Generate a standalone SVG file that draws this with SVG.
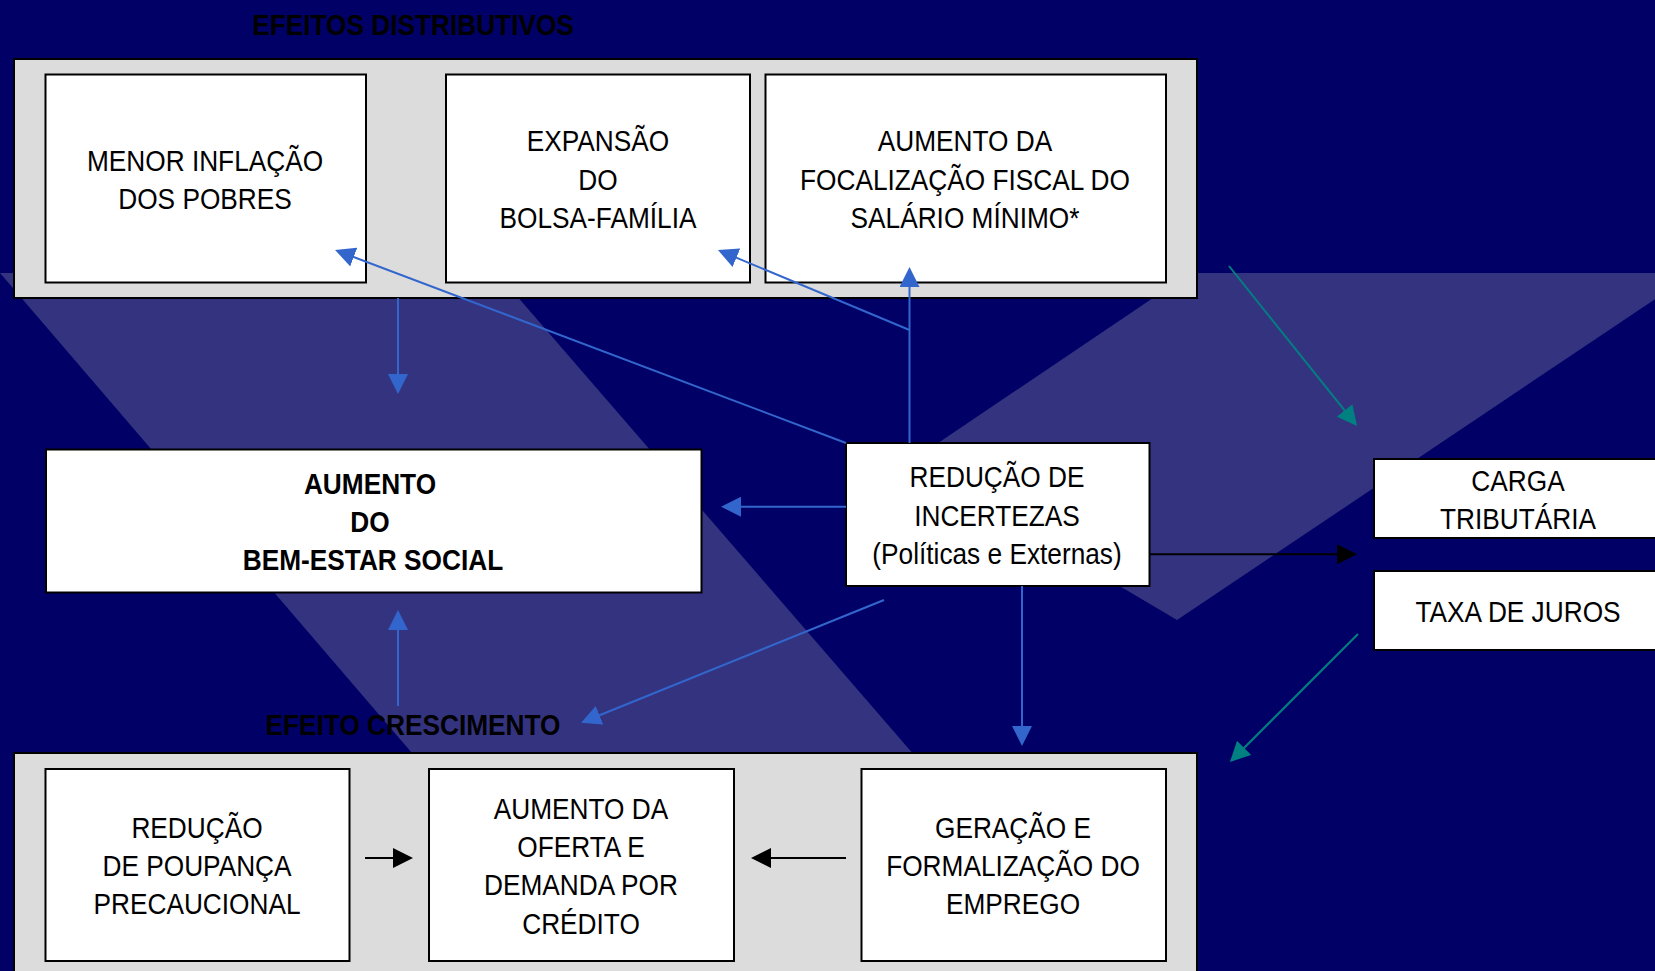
<svg xmlns="http://www.w3.org/2000/svg" width="1655" height="971" viewBox="0 0 1655 971">
<style>
text{font-family:"Liberation Sans",Arial,sans-serif;font-size:30px;fill:#000;text-anchor:middle}
.b{font-weight:bold}
.panel{fill:#dcdcdc;stroke:#000;stroke-width:2}
.box{fill:#fff;stroke:#000;stroke-width:2}
.band{fill:#333380}
.bl{stroke:#3366cc;stroke-width:2;fill:none;marker-end:url(#mb)}
.te{stroke:#008080;stroke-width:2;fill:none;marker-end:url(#mt)}
.bk{stroke:#000;stroke-width:2;fill:none;marker-end:url(#mk)}
</style>
<defs>
<marker id="mb" markerUnits="userSpaceOnUse" markerWidth="20" markerHeight="20" refX="10" refY="10" orient="auto"><path d="M0 0L20 10L0 20z" fill="#3366cc"/></marker>
<marker id="mt" markerUnits="userSpaceOnUse" markerWidth="20" markerHeight="20" refX="10" refY="10" orient="auto"><path d="M0 0L20 10L0 20z" fill="#008080"/></marker>
<marker id="mk" markerUnits="userSpaceOnUse" markerWidth="20" markerHeight="20" refX="10" refY="10" orient="auto"><path d="M0 0L20 10L0 20z" fill="#000"/></marker>
</defs>
<rect width="1655" height="971" fill="#000066"/>
<polygon class="band" points="0,273 497,273 1101,971 599,971"/>
<polygon class="band" points="1190,273 1694,273 1177,620 910,462"/>
<text class="b" transform="translate(413 35) scale(.875 1)">EFEITOS DISTRIBUTIVOS</text>
<text class="b" transform="translate(413 735) scale(.875 1)">EFEITO CRESCIMENTO</text>
<g id="painel-distributivos"><rect class="panel" x="14" y="59" width="1183" height="239"/></g>
<g id="painel-crescimento"><rect class="panel" x="14" y="753" width="1183" height="230"/></g>
<g id="menor-inflacao"><rect class="box" x="45.5" y="74.5" width="320.5" height="208"/>
<text transform="translate(205 171) scale(.875 1)">MENOR INFLAÇÃO</text>
<text transform="translate(205 209) scale(.875 1)">DOS POBRES</text></g>
<g id="expansao"><rect class="box" x="446" y="74.5" width="304" height="208"/>
<text transform="translate(598 151) scale(.875 1)">EXPANSÃO</text>
<text transform="translate(598 190) scale(.875 1)">DO</text>
<text transform="translate(598 228) scale(.875 1)">BOLSA-FAMÍLIA</text></g>
<g id="focalizacao"><rect class="box" x="765.5" y="74.5" width="400.5" height="208"/>
<text transform="translate(965 151) scale(.875 1)">AUMENTO DA</text>
<text transform="translate(965 190) scale(.875 1)">FOCALIZAÇÃO FISCAL DO</text>
<text transform="translate(965 228) scale(.875 1)">SALÁRIO MÍNIMO*</text></g>
<g id="bem-estar"><rect class="box" x="46" y="449.5" width="655.5" height="143"/>
<text class="b" transform="translate(370 494) scale(.875 1)">AUMENTO</text>
<text class="b" transform="translate(370 532) scale(.875 1)">DO</text>
<text class="b" transform="translate(373 570) scale(.875 1)">BEM-ESTAR SOCIAL</text></g>
<g id="reducao-incertezas"><rect class="box" x="846" y="443" width="303.5" height="143"/>
<text transform="translate(997 487) scale(.875 1)">REDUÇÃO DE</text>
<text transform="translate(997 526) scale(.875 1)">INCERTEZAS</text>
<text transform="translate(997 564) scale(.875 1)">(Políticas e Externas)</text></g>
<g id="carga"><rect class="box" x="1374" y="459" width="300" height="79"/>
<text transform="translate(1518 491) scale(.875 1)">CARGA</text>
<text transform="translate(1518 529) scale(.875 1)">TRIBUTÁRIA</text></g>
<g id="juros"><rect class="box" x="1374" y="571" width="300" height="79"/>
<text transform="translate(1518 622) scale(.875 1)">TAXA DE JUROS</text></g>
<g id="poupanca"><rect class="box" x="45.5" y="769" width="304" height="192"/>
<text transform="translate(197 838) scale(.875 1)">REDUÇÃO</text>
<text transform="translate(197 876) scale(.875 1)">DE POUPANÇA</text>
<text transform="translate(197 914) scale(.875 1)">PRECAUCIONAL</text></g>
<g id="credito"><rect class="box" x="429" y="769" width="305" height="192"/>
<text transform="translate(581 819) scale(.875 1)">AUMENTO DA</text>
<text transform="translate(581 857) scale(.875 1)">OFERTA E</text>
<text transform="translate(581 895) scale(.875 1)">DEMANDA POR</text>
<text transform="translate(581 934) scale(.875 1)">CRÉDITO</text></g>
<g id="emprego"><rect class="box" x="861.5" y="769" width="304.5" height="192"/>
<text transform="translate(1013 838) scale(.875 1)">GERAÇÃO E</text>
<text transform="translate(1013 876) scale(.875 1)">FORMALIZAÇÃO DO</text>
<text transform="translate(1013 914) scale(.875 1)">EMPREGO</text></g>
<g id="conectores">
<line class="bl" x1="846" y1="443" x2="344.4" y2="253.5"/>
<line class="bl" x1="909.5" y1="330" x2="727.2" y2="253.9"/>
<line class="bl" x1="909.5" y1="443" x2="909.5" y2="277"/>
<line class="bl" x1="398" y1="298" x2="398" y2="384"/>
<line class="bl" x1="398" y1="706" x2="398" y2="620"/>
<line class="bl" x1="846" y1="506.7" x2="731" y2="506.7"/>
<line class="bl" x1="884" y1="600" x2="590.3" y2="719"/>
<line class="bl" x1="1022" y1="586" x2="1022" y2="736"/>
<line class="te" x1="1229" y1="266" x2="1350.8" y2="418.2"/>
<line class="te" x1="1358" y1="634" x2="1237" y2="755"/>
<line class="bk" x1="1150" y1="554.3" x2="1347" y2="554.3"/>
<line class="bk" x1="365" y1="858" x2="403" y2="858"/>
<line class="bk" x1="846" y1="858" x2="761" y2="858"/>
</g>
</svg>
